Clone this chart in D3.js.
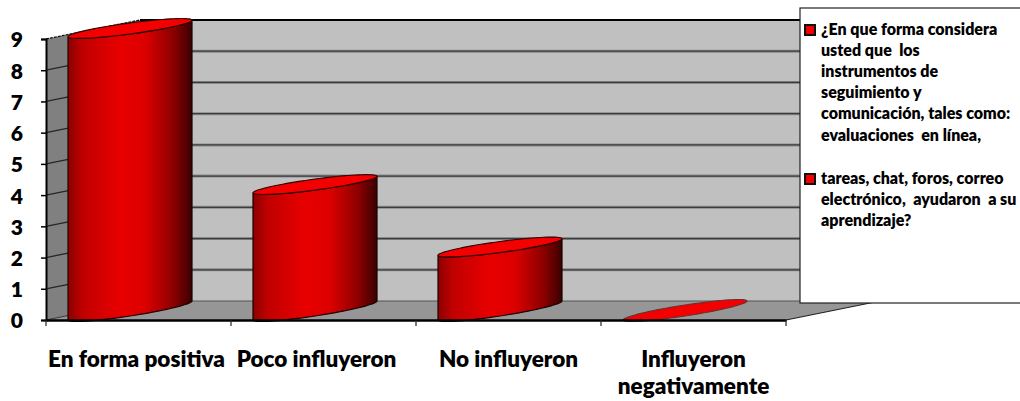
<!DOCTYPE html>
<html><head><meta charset="utf-8">
<script src="https://cdn.jsdelivr.net/npm/d3@7/dist/d3.min.js"></script>
<style>html,body{margin:0;padding:0;background:#fff;overflow:hidden}svg{display:block}text{font-family:Lato,"Open Sans",sans-serif;font-weight:800;fill:#000}</style>
</head><body><svg id="c" width="1020" height="401"></svg>
<script>
const categories = ["En forma positiva", "Poco influyeron", "No influyeron", "Influyeron negativamente"];
const values = [9, 4, 2, 0];
const yTicks = [0, 1, 2, 3, 4, 5, 6, 7, 8, 9];
const legendEntries = [
  ["¿En que forma considera", "usted que  los", "instrumentos de", "seguimiento y", "comunicación, tales como:", "evaluaciones  en línea,"],
  ["tareas, chat, foros, correo", "electrónico,  ayudaron  a su", "aprendizaje?"]
];

const svg = d3.select("#c");
const X0 = 46, X1 = 786, Y0 = 320, Y9 = 39;
const dx = 94, dy = 19, barW = 124, barInset = 22, ellH = 5.5;
const x = d3.scaleBand().domain(categories).range([X0, X1]);
const y = d3.scaleLinear().domain([0, 9]).range([Y0, Y9]);

const defs = svg.append("defs");
const grad = defs.append("linearGradient").attr("id", "cyl");
[[0, "#8c0000"], [0.12, "#c00000"], [0.42, "#e80000"], [0.62, "#dc0000"], [0.85, "#8c0000"], [1, "#3a0000"]]
  .forEach(d => grad.append("stop").attr("offset", d[0]).attr("stop-color", d[1]));

// walls and floor
svg.append("rect").attr("x", X0 + dx).attr("y", y(9) - dy).attr("width", X1 - X0).attr("height", y(0) - y(9))
  .attr("fill", "#c0c0c0");
svg.append("path").attr("d", d3.line()([[X0, y(9)], [X0 + dx, y(9) - dy], [X0 + dx, y(0) - dy], [X0, y(0)]]) + "Z")
  .attr("fill", "#808080");
svg.append("path").attr("d", d3.line()([[X0, y(0)], [X1, y(0)], [X1 + dx, y(0) - dy], [X0 + dx, y(0) - dy]]) + "Z")
  .attr("fill", "#969696");

// gridlines
const gridTicks = yTicks.filter(t => t > 0 && t < 9);
[["#8a8a8a", 3], ["#3c3c3c", 1.2]].forEach(([col, w]) => {
  svg.append("g").selectAll("path").data(gridTicks).join("path")
    .attr("d", t => d3.line()([[X0 + dx, y(t) - dy], [X1 + dx, y(t) - dy]]))
    .attr("stroke", col).attr("stroke-width", w).attr("fill", "none");
});
svg.append("g").selectAll("path").data(gridTicks).join("path")
  .attr("d", t => d3.line()([[X0, y(t)], [X0 + dx, y(t) - dy]]))
  .attr("stroke", "#262626").attr("stroke-width", 1.3).attr("fill", "none");
svg.append("path").attr("d", d3.line()([[X0 + dx, y(0) - dy], [X1 + dx, y(0) - dy]]))
  .attr("stroke", "#555").attr("stroke-width", 1.2);
svg.append("path").attr("d", d3.line()([[X0, y(0)], [X0 + dx, y(0) - dy]])).attr("stroke", "#333").attr("stroke-width", 1);
svg.append("path").attr("d", d3.line()([[X0, y(9)], [X0 + dx, y(9) - dy]]))
  .attr("stroke", "#111").attr("stroke-width", 1.3).attr("stroke-dasharray", "3 1").attr("fill", "none");
svg.append("path").attr("d", d3.line()([[X0 + dx, y(9) - dy], [X1 + dx, y(9) - dy]]))
  .attr("stroke", "#000").attr("stroke-width", 2.2);
svg.append("path").attr("d", d3.line()([[X1, y(0)], [X1 + dx, y(0) - dy]]))
  .attr("stroke", "#222").attr("stroke-width", 1.2);

// cylinders: the cap of a bar sits slightly above its value and is a little flatter than the base
const capLift = 2.3, capDy = 16.5;
const ell = (left, base, t, rise) => [
  left + barW / 2 + barW / 2 * Math.cos(t),
  base - rise / 2 - rise / 2 * Math.cos(t) + ellH * Math.sin(t)
];
const lower = (left, base, rise) => d3.range(0, 41).map(i => ell(left, base, Math.PI - Math.PI * i / 40, rise));
const whole = (left, base, rise) => d3.range(0, 80).map(i => ell(left, base, 2 * Math.PI * i / 80, rise));
const line = d3.line();
const capBase = v => v > 0 ? y(v) - capLift : y(v);
const capRise = v => v > 0 ? capDy : dy;
const bars = svg.append("g").selectAll("g").data(categories).join("g");
bars.filter((d, i) => values[i] > 0).append("path")
  .attr("d", d => {
    const v = values[categories.indexOf(d)], left = x(d) + barInset;
    const bottom = lower(left, y(0), dy);
    const top = lower(left, capBase(v), capRise(v)).reverse();
    return line([...bottom, ...top]) + "Z";
  })
  .attr("fill", "url(#cyl)").attr("stroke", "#1a0000").attr("stroke-width", 1.2);
bars.append("path")
  .attr("d", d => {
    const v = values[categories.indexOf(d)], left = x(d) + barInset;
    return line(whole(left, capBase(v), capRise(v))) + "Z";
  })
  .attr("fill", "#f40000").attr("stroke", d => values[categories.indexOf(d)] > 0 ? "#300000" : "#6a3030").attr("stroke-width", 1.1);

// axes
const yAxis = svg.append("g").attr("transform", `translate(${X0},0)`)
  .call(d3.axisLeft(y).tickValues(yTicks).tickSize(5).tickPadding(18).tickFormat(d3.format("d")));
yAxis.selectAll("text").attr("font-size", 21).attr("fill", "#000").attr("dy", "0.38em").style("font-weight", 800).style("font-family", "Lato");
yAxis.select(".domain").attr("stroke", "#000").attr("stroke-width", 2);
yAxis.selectAll("line").attr("stroke", "#000").attr("stroke-width", 1.5);

const xAxis = svg.append("g").attr("transform", `translate(0,${Y0})`)
  .call(d3.axisBottom(x).tickSize(0).tickFormat(""));
xAxis.select(".domain").attr("stroke", "#000").attr("stroke-width", 2.5);
svg.append("g").selectAll("line").data(categories.map(c => x(c)).concat(X1)).join("line")
  .attr("x1", d => d).attr("x2", d => d).attr("y1", Y0).attr("y2", Y0 + 6)
  .attr("stroke", "#222").attr("stroke-width", 1.2);

// category labels
const labelLines = c => c === "Influyeron negativamente" ? ["Influyeron", "negativamente"] : [c];
const labelNudge = [-1, -6, 1, 1];
svg.append("g").selectAll("text").data(categories).join("text")
  .attr("text-anchor", "middle").attr("font-size", 22.5).attr("y", 367)
  .each(function (c, i) {
    const cx = x(c) + x.bandwidth() / 2 - 1 + labelNudge[i];
    d3.select(this).selectAll("tspan").data(labelLines(c)).join("tspan")
      .attr("x", cx).attr("dy", (d, j) => j ? 27 : 0).text(d => d);
  });

// legend
svg.append("rect").attr("x", 800).attr("y", 8).attr("width", 240).attr("height", 295)
  .attr("fill", "#fff").attr("stroke", "#222").attr("stroke-width", 1.2);
const legendTop = [35, 184];
const lg = svg.append("g").selectAll("g").data(legendEntries).join("g");
lg.append("rect").attr("x", 805).attr("y", (d, i) => legendTop[i] - 10).attr("width", 10).attr("height", 10)
  .attr("fill", "#f40000").attr("stroke", "#111").attr("stroke-width", 2);
lg.each(function (lines, i) {
  d3.select(this).selectAll("text").data(lines).join("text")
    .attr("x", 821).attr("y", (d, j) => legendTop[i] + j * 21.1)
    .attr("font-size", 16).style("white-space", "pre").text(d => d);
});
</script></body></html>
